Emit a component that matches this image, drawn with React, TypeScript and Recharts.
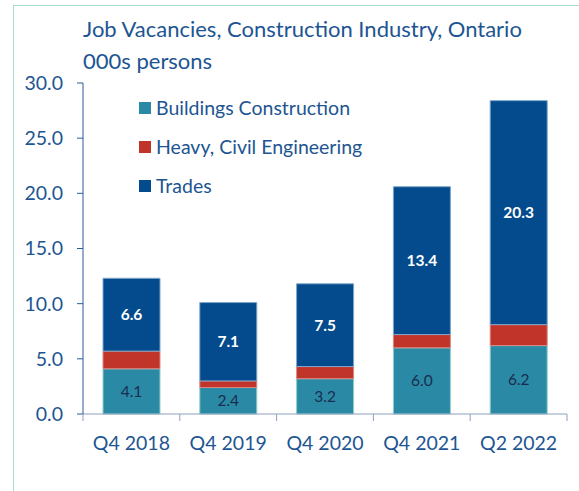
import { Bar, BarChart, LabelList, XAxis, YAxis } from 'recharts'

const quarters = ['Q4 2018', 'Q4 2019', 'Q4 2020', 'Q4 2021', 'Q2 2022']
const buildings = [4.1, 2.4, 3.2, 6.0, 6.2]
const heavyCivil = [1.6, 0.6, 1.1, 1.2, 1.9]
const trades = [6.6, 7.1, 7.5, 13.4, 20.3]
const yTicks = [0, 5, 10, 15, 20, 25, 30]

const series = [
  { key: 'buildings', name: 'Buildings Construction', color: '#2a8aa6', stroke: '#8fd0c8' },
  { key: 'heavy', name: 'Heavy, Civil Engineering', color: '#c0342a', stroke: '#d98a84' },
  { key: 'trades', name: 'Trades', color: '#034b8c', stroke: '#7fa6cc' }
]

const data = quarters.map((q, i) => ({
  quarter: q,
  buildings: buildings[i],
  heavy: heavyCivil[i],
  trades: trades[i]
}))

const FONT = 'Lato, "Open Sans", sans-serif'
const TEXT = '#1d5592'
const BAND = (567 - 83) / quarters.length

function CategoryTick(props: any) {
  const { x, y, payload, index } = props
  const left = x - BAND / 2
  return (
    <g>
      <line x1={left} x2={left} y1={y - 8} y2={y - 1} stroke="#8fa0bf" />
      {index === quarters.length - 1 && <line x1={left + BAND} x2={left + BAND} y1={y - 8} y2={y - 1} stroke="#8fa0bf" />}
      <text x={x} y={y + 28} textAnchor="middle" fill={TEXT} fontSize={19.5} fontFamily={FONT}>{payload.value}</text>
    </g>
  )
}

function LegendBox() {
  return (
    <div style={{ position: 'absolute', left: 139, top: 88, fontFamily: FONT, fontSize: 19.5, color: TEXT }}>
      {series.map((s) => (
        <div key={s.key} style={{ display: 'flex', alignItems: 'center', height: 39 }}>
          <span style={{ width: 12, height: 12, background: s.color, marginRight: 5, display: 'inline-block' }} />
          {s.name}
        </div>
      ))}
    </div>
  )
}

export default function App() {
  return (
    <div style={{ position: 'absolute', left: 0, top: 0, width: 579, height: 491, background: '#fff', overflow: 'hidden' }}>
      <div style={{ position: 'absolute', left: 13, top: 5, width: 620, height: 560, border: '1.5px solid #a9dccb' }} />
      <div style={{ position: 'absolute', left: 83, top: 13, fontFamily: FONT, fontSize: 22, lineHeight: '32px', color: TEXT }}>
        Job Vacancies, Construction Industry, Ontario
        <br />
        000s persons
      </div>
      <div style={{ position: 'absolute', left: 0, top: 0 }}>
        <BarChart width={579} height={491} data={data} margin={{ top: 83, right: 12, bottom: 0, left: 0 }} barSize={57}>
          <XAxis dataKey="quarter" height={77} axisLine={{ stroke: '#8fa0bf' }} tickLine={false} tick={<CategoryTick />} interval={0} />
          <XAxis xAxisId="top" orientation="top" dataKey="quarter" height={0} axisLine={{ stroke: '#234f8a' }} tick={false} tickLine={false} />
          <YAxis domain={[0, 30]} ticks={yTicks} width={83} axisLine={{ stroke: '#2c5b96' }} tickLine={{ stroke: '#2c5b96' }} tickSize={6} tickMargin={14} tickFormatter={(v: number) => v.toFixed(1)} tick={{ fill: TEXT, fontSize: 19.5, fontFamily: FONT }} interval={0} />
          <YAxis yAxisId="right" orientation="right" domain={[0, 30]} width={0} axisLine={{ stroke: '#234f8a' }} tick={false} tickLine={false} />
          <Bar dataKey="buildings" name={series[0].name} stackId="a" fill={series[0].color} stroke={series[0].stroke} strokeWidth={1} isAnimationActive={false}>
            <LabelList dataKey="buildings" position="center" formatter={(v: number) => v.toFixed(1)} fill="#1b2c4e" fontSize={15.5} fontFamily={FONT} />
          </Bar>
          <Bar dataKey="heavy" name={series[1].name} stackId="a" fill={series[1].color} stroke={series[1].stroke} strokeWidth={1} isAnimationActive={false} />
          <Bar dataKey="trades" name={series[2].name} stackId="a" fill={series[2].color} stroke={series[2].stroke} strokeWidth={1} isAnimationActive={false}>
            <LabelList dataKey="trades" position="center" formatter={(v: number) => v.toFixed(1)} fill="#ffffff" fontSize={15.5} fontWeight="bold" fontFamily={FONT} />
          </Bar>
        </BarChart>
      </div>
      <LegendBox />
    </div>
  )
}
